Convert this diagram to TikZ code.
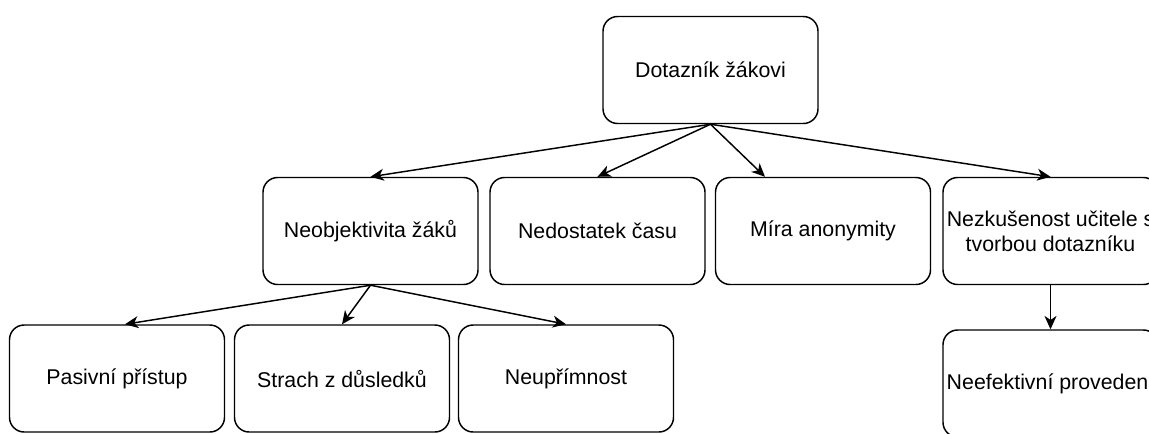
\documentclass[tikz,border=0pt]{standalone}
\usepackage{fontspec}
\setmainfont{Liberation Sans}
\usetikzlibrary{arrows.meta}
\tikzset{box/.style={draw,line width=1.1pt,rounded corners=11pt,minimum width=161.25pt,
  minimum height=80.25pt,align=center,inner sep=1pt,font=\fontsize{16}{19}\selectfont},
  arr/.style={line width=1.1pt,-{Stealth[length=10pt,width=9pt,inset=3pt]}}}
\begin{document}
\begin{tikzpicture}[x=0.75pt,y=-0.75pt]
\useasboundingbox(0,0)rectangle(1149,433);
\clip(0,0)rectangle(1149,433);
\node[box](dotaznik)at(710.5,70){Dotazník žákovi};
\node[box](neobj)at(370.5,231){Neobjektivita žáků};
\node[box](cas)at(597.5,231){Nedostatek času};
\node[box](anonym)at(823,231){Míra anonymity};
\node[box](ucitel)at(1050.5,231){Nezkušenost učitele s\\tvorbou dotazníku};
\node[box](pasiv)at(117,378.5){Pasivní přístup};
\node[box](strach)at(342,378.5){Strach z důsledků};
\node[box](neupr)at(566,378.5){Neupřímnost};
\node[box](neef)at(1050.5,383.5){Neefektivní provedení};
\draw[arr](dotaznik.south)--(neobj.north);
\draw[arr](dotaznik.south)--(cas.north);
\draw[arr](dotaznik.south)--([xshift=-43.5pt]anonym.north);
\draw[arr](dotaznik.south)--(ucitel.north);
\draw[arr](neobj.south)--([xshift=6pt]pasiv.north);
\draw[arr](neobj.south)--(strach.north);
\draw[arr](neobj.south)--(neupr.north);
\draw[arr](ucitel.south)--(neef.north);
\end{tikzpicture}
\end{document}
